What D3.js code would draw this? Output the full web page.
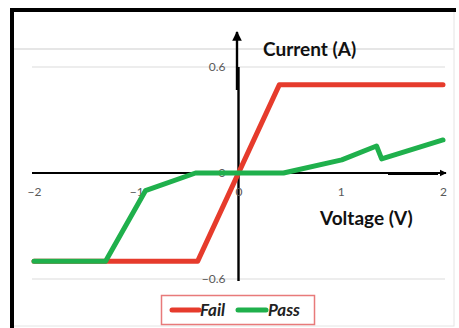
<!DOCTYPE html>
<html>
<head>
<meta charset="utf-8">
<script src="https://cdn.jsdelivr.net/npm/d3@7"></script>
<style>
  html, body { margin: 0; padding: 0; background: #fff; }
  svg { display: block; }
  text { font-family: Lato, "Open Sans", sans-serif; }
</style>
</head>
<body>
<svg id="chart" width="459" height="328"></svg>
<script>
// I-V characteristics of a failing and a passing device
const failVoltage = [-2, -0.4, 0.4, 2];
const failCurrent = [-0.5, -0.5, 0.5, 0.5];
const passVoltage = [-2, -1.3, -0.91, -0.42, 0.44, 1.01, 1.35, 1.4, 2];
const passCurrent = [-0.5, -0.5, -0.10, 0, 0, 0.074, 0.153, 0.08, 0.187];
const xTicks = [-2, -1, 0, 1, 2];
const yTicks = [-0.6, 0, 0.6];
const seriesNames = ["Fail", "Pass"];
const seriesColors = ["#e63b2c", "#1fb04c"];

const svg = d3.select("#chart");

const x = d3.scaleLinear().domain([-2, 2]).range([34, 443]);
const y = d3.scaleLinear().domain([-0.6, 0.6]).range([279, 67]);

// outer frame
svg.append("rect").attr("x", 12).attr("y", 10).attr("width", 442).attr("height", 316)
  .attr("fill", "#fff").attr("stroke", "#e4e4e4").attr("stroke-width", 1);
svg.append("path").attr("d", "M12,328 L12,10 L456,10")
  .attr("fill", "none").attr("stroke", "#000").attr("stroke-width", 4);
// plot area top edge
svg.append("line").attr("x1", 14).attr("x2", 454).attr("y1", 49).attr("y2", 49)
  .attr("stroke", "#e6e6e6").attr("stroke-width", 2);

// gridlines at the outer ticks
svg.append("g").selectAll("line").data([-0.6, 0.6]).join("line")
  .attr("x1", 32).attr("x2", 445)
  .attr("y1", d => y(d)).attr("y2", d => y(d))
  .attr("stroke", "#dcdcdc").attr("stroke-width", 1.2);

// arrow markers
const defs = svg.append("defs");
defs.append("marker").attr("id", "arrow")
  .attr("viewBox", "0 0 10 10").attr("refX", 9).attr("refY", 5)
  .attr("markerWidth", 4).attr("markerHeight", 4).attr("markerUnits", "strokeWidth")
  .attr("orient", "auto")
  .append("path").attr("d", "M0,0 L10,5 L0,10 Z").attr("fill", "#000");

// axis lines
svg.append("line").attr("x1", 32).attr("x2", 446).attr("y1", y(0)).attr("y2", y(0))
  .attr("stroke", "#000").attr("stroke-width", 1.8).attr("marker-end", "url(#arrow)");
svg.append("line").attr("x1", 388).attr("x2", 438).attr("y1", y(0) + 0.5).attr("y2", y(0) + 0.5)
  .attr("stroke", "#000").attr("stroke-width", 3);
svg.append("line").attr("x1", x(0)).attr("x2", x(0)).attr("y1", y(-0.6) + 2).attr("y2", y(0.6))
  .attr("stroke", "#000").attr("stroke-width", 2.4);
svg.append("line").attr("x1", x(0) - 1.5).attr("x2", x(0) - 1.5).attr("y1", 90).attr("y2", 32)
  .attr("stroke", "#000").attr("stroke-width", 2.4).attr("marker-end", "url(#arrow)");

// tick labels via d3 axes
const xAxis = svg.append("g").attr("transform", `translate(0,${y(0)})`)
  .call(d3.axisBottom(x).tickValues(xTicks).tickSize(0).tickPadding(14).tickFormat(d3.format("d")));
const yAxis = svg.append("g").attr("transform", `translate(${x(0)},0)`)
  .call(d3.axisLeft(y).tickValues(yTicks).tickSize(0).tickPadding(13).tickFormat(d => d === 0 ? "0" : d3.format(".1f")(d)));
[xAxis, yAxis].forEach(g => {
  g.select(".domain").remove();
  g.selectAll("text").attr("fill", "#595959").attr("font-size", 12)
    .attr("font-family", "Lato, 'Open Sans', sans-serif");
});

// axis titles
svg.append("text").attr("x", 263).attr("y", 56).attr("font-size", 19).attr("font-weight", "bold")
  .attr("fill", "#111").text("Current (A)");
svg.append("text").attr("x", 320).attr("y", 225).attr("font-size", 19).attr("font-weight", "bold")
  .attr("fill", "#111").text("Voltage (V)");

// series
const line = d3.line().x(d => x(d[0])).y(d => y(d[1]));
const series = [
  d3.zip(failVoltage, failCurrent),
  d3.zip(passVoltage, passCurrent)
];
svg.append("g").selectAll("path").data(series).join("path")
  .attr("d", line)
  .attr("fill", "none")
  .attr("stroke", (d, i) => seriesColors[i])
  .attr("stroke-width", 5)
  .attr("stroke-linejoin", "round")
  .attr("stroke-linecap", "round");

// legend
const legend = svg.append("g");
legend.append("rect").attr("x", 161.5).attr("y", 295.5).attr("width", 153).attr("height", 29)
  .attr("fill", "#fff").attr("stroke", "#e87a7a").attr("stroke-width", 1.5);
const items = [{ x0: 172, x1: 199, tx: 200 }, { x0: 238, x1: 266, tx: 268 }];
items.forEach((it, i) => {
  legend.append("line").attr("x1", it.x0).attr("x2", it.x1).attr("y1", 310).attr("y2", 310)
    .attr("stroke", seriesColors[i]).attr("stroke-width", 5).attr("stroke-linecap", "round");
  legend.append("text").attr("x", it.tx).attr("y", 316).attr("font-size", 17)
    .attr("font-style", "italic").attr("font-weight", "bold").attr("fill", "#222")
    .text(seriesNames[i]);
});
</script>
</body>
</html>
